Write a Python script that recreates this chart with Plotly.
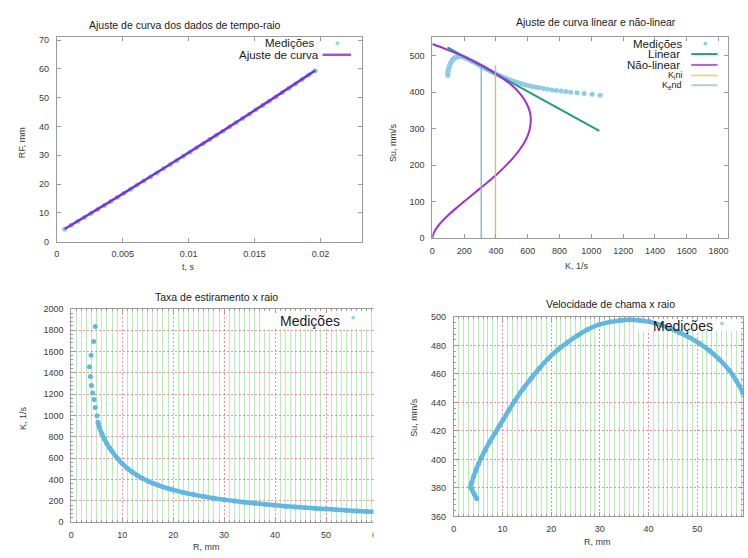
import plotly.graph_objects as go

W, H = 748, 558
FONT = "Liberation Sans, Arial, sans-serif"


def fx(p):
    return p / W


def fy(p):
    return 1 - p / H


# ---------------- Ajuste de curva dos dados de tempo-raio ----------------
t_meas = [0.0006, 0.0011, 0.0016, 0.0021, 0.0026, 0.0031, 0.0036, 0.0041, 0.0046, 0.0051,
          0.0056, 0.0061, 0.0066, 0.0071, 0.0076, 0.0081, 0.0086, 0.0091, 0.0096, 0.0101,
          0.0106, 0.0111, 0.0116, 0.0121, 0.0126, 0.0131, 0.0136, 0.0141, 0.0146, 0.0151,
          0.0156, 0.0161, 0.0166, 0.0171, 0.0176, 0.0181, 0.0186, 0.0191, 0.0196]
rf_meas = [4.3, 5.7, 7.1, 8.4, 9.8, 11.2, 12.6, 14.0, 15.4, 16.8,
           18.2, 19.7, 21.1, 22.5, 23.9, 25.4, 26.8, 28.2, 29.7, 31.1,
           32.6, 34.0, 35.5, 37.0, 38.4, 39.9, 41.4, 42.9, 44.3, 45.8,
           47.3, 48.8, 50.3, 51.8, 53.3, 54.8, 56.3, 57.9, 59.4]
t_fit = [0.0006, 0.0046, 0.0086, 0.0126, 0.0166, 0.0196]
rf_fit = [4.4, 15.5, 26.9, 38.5, 50.4, 59.5]

# ---------------- Ajuste de curva linear e não-linear ----------------
k_meas = [98, 97, 98, 100, 103, 106, 110, 114, 119, 124, 130, 137, 145, 155, 165, 175, 186,
          198, 210, 222, 235, 248, 262, 276, 290, 305, 320, 335, 350, 365, 380, 395, 410,
          425, 440, 455, 470, 485, 500, 515, 530, 545, 560, 578, 596, 615, 635, 655, 675,
          700, 725, 752, 780, 810, 840, 870, 910, 955, 1005, 1055]
su_meas = [446, 450, 455, 460, 465, 470, 475, 479, 483, 487, 490, 493, 495.5, 497, 498, 498,
           497, 495.5, 493, 491, 488, 485, 482, 479, 475, 471, 468, 464, 461, 457, 454, 451,
           448, 445, 442, 439, 436.5, 434, 431.5, 429, 427, 425, 423, 421, 419, 417, 415,
           413.5, 412, 410, 408, 406, 404.5, 403, 401.5, 400, 398.5, 396.5, 394, 391.5]
k_lin = [95, 1050]
su_lin = [523, 294]
k_nl = [0, 73, 184, 282, 366, 437, 496, 543, 578, 602, 616, 619, 613, 599, 576, 545, 508,
        465, 418, 366, 311, 255, 199, 144, 93, 49, 16, 5, 0]
su_nl = [532, 520, 500, 480, 460, 440, 420, 400, 380, 360, 340, 323, 300, 280, 260, 240, 220,
         200, 180, 160, 140, 120, 100, 80, 60, 40, 20, 10, 0]
k_ini = [397, 397]
su_ini = [0, 474]
k_end = [307, 307]
su_end = [0, 470]

# ---------------- Taxa de estiramento x raio ----------------
r_k = [4.72, 4.4, 3.88, 3.56, 3.75, 3.95, 4.2, 4.47, 4.72, 5.05, 5.24,
       5.5, 6.0, 6.5, 7.0, 7.5, 8.0, 9.0, 10, 11, 12, 13, 14, 15, 16, 17, 18, 19, 20,
       22, 24, 26, 28, 30, 32, 34, 36, 38, 40, 42, 44, 46, 48, 50, 52, 54, 56, 58, 60]
k_r = [1834, 1693, 1564, 1457, 1365, 1282, 1212, 1150, 1074, 997, 936,
       890, 830, 780, 735, 698, 665, 601, 550, 506, 470, 439, 411, 387, 366, 348, 331, 316, 303,
       279, 259, 241, 225, 212, 199, 188, 178, 168, 160, 151, 144, 137, 130, 124, 118, 112,
       106, 101, 95]

# ---------------- Velocidade de chama x raio ----------------
r_su = [4.74, 4.2, 3.7, 3.45, 3.7, 4.07, 4.5, 5.08, 5.7, 6.43, 7.4, 8.46, 9.3, 10.16, 11.3,
        12.5, 14.2, 15.9, 17.6, 19.3, 21.3, 23.4, 25.4, 27.4, 29.8, 32.2, 34.2, 36.2, 38.2,
        40.3, 42.3, 44.4, 46.4, 48.4, 50.5, 52.5, 54.5, 56.6, 58.0, 59.4]
su_r = [372.4, 375.5, 378.9, 380.5, 384, 388, 392, 397, 401.5, 406.5, 412.5, 418.5, 423.2,
        428, 434.5, 441, 449.5, 457, 464, 470.5, 476.8, 482.3, 487, 491, 494.6,
        496.6, 497.6, 498, 497.6, 496.6, 494.7, 492, 489, 485.6, 481.3, 476.4, 470.4,
        462.5, 455.5, 446.7]

C_MEAS = "#62b6e2"
C_MEAS_KEY = "#8fcbe8"
C_PURPLE = "#9b30d6"
C_GREEN = "#1f9e78"
C_KINI = "#e0bd62"
C_KEND = "#78b4d4"
AX = "#9a9a9a"
TXT = "#3a3a3a"

fig = go.Figure()

# panel 1
fig.add_trace(go.Scatter(x=t_meas, y=rf_meas, mode="markers", xaxis="x", yaxis="y",
                         marker=dict(size=5, color="#7fd0ea"), showlegend=False))
fig.add_trace(go.Scatter(x=t_fit, y=rf_fit, mode="lines", xaxis="x", yaxis="y",
                         line=dict(color="#7a32d8", width=2.5, shape="spline"),
                         showlegend=False))

# panel 2
fig.add_trace(go.Scatter(x=k_meas, y=su_meas, mode="markers", xaxis="x2", yaxis="y2",
                         marker=dict(size=5, color=C_MEAS_KEY), showlegend=False))
fig.add_trace(go.Scatter(x=k_lin, y=su_lin, mode="lines", xaxis="x2", yaxis="y2",
                         line=dict(color=C_GREEN, width=2), showlegend=False))
fig.add_trace(go.Scatter(x=k_nl, y=su_nl, mode="lines", xaxis="x2", yaxis="y2",
                         line=dict(color=C_PURPLE, width=2, shape="spline", smoothing=0.8),
                         showlegend=False))
fig.add_trace(go.Scatter(x=k_ini, y=su_ini, mode="lines", xaxis="x2", yaxis="y2",
                         line=dict(color=C_KINI, width=1.3), showlegend=False))
fig.add_trace(go.Scatter(x=k_end, y=su_end, mode="lines", xaxis="x2", yaxis="y2",
                         line=dict(color=C_KEND, width=1.3), showlegend=False))

# panel 3 (dense part drawn as a band under the dots)
fig.add_trace(go.Scatter(x=r_k[10:], y=k_r[10:], mode="lines", xaxis="x3", yaxis="y3",
                         line=dict(color=C_MEAS, width=4.5, shape="spline"), showlegend=False))
fig.add_trace(go.Scatter(x=r_k, y=k_r, mode="markers", xaxis="x3", yaxis="y3",
                         marker=dict(size=5, color=C_MEAS), showlegend=False))

# panel 4
fig.add_trace(go.Scatter(x=r_su, y=su_r, mode="lines", xaxis="x4", yaxis="y4",
                         line=dict(color=C_MEAS, width=4.5, shape="spline"), showlegend=False))
fig.add_trace(go.Scatter(x=r_su, y=su_r, mode="markers", xaxis="x4", yaxis="y4",
                         marker=dict(size=5, color=C_MEAS), showlegend=False))


def axis(domain, rng, anchor, **kw):
    d = dict(domain=domain, range=rng, anchor=anchor, showline=True, linecolor=AX,
             linewidth=1, mirror="allticks", ticks="inside", ticklen=4, tickcolor=AX,
             tickfont=dict(family=FONT, size=9, color=TXT), zeroline=False,
             showgrid=False, fixedrange=True)
    d.update(kw)
    return d


GRID_MAJ = dict(showgrid=True, gridcolor="rgba(228,120,120,0.8)", griddash="2px,2px",
                gridwidth=1)


def minor(dt, grid):
    m = dict(dtick=dt, ticks="inside", ticklen=2, tickcolor=AX, showgrid=grid)
    if grid:
        m.update(gridcolor="#bce8bc", griddash="solid", gridwidth=1)
    return m


fig.update_layout(
    width=W, height=H, margin=dict(l=0, r=0, t=0, b=0),
    paper_bgcolor="white", plot_bgcolor="white", showlegend=False,
    font=dict(family=FONT, color=TXT),
    xaxis=axis([fx(54.3), fx(363)], [0, 0.02315], "y",
               tickvals=[0, 0.005, 0.01, 0.015, 0.02],
               ticktext=["0", "0.005", "0.01", "0.015", "0.02"], ticklabelstandoff=4),
    yaxis=axis([fy(241), fy(32.3)], [0, 71.2], "x", dtick=10, ticklabelstandoff=5),
    xaxis2=axis([fx(434), fx(733.3)], [0, 1862], "y2", dtick=200, ticklabelstandoff=4),
    yaxis2=axis([fy(237.3), fy(32.3)], [0, 552], "x2", dtick=100, ticklabelstandoff=5),
    xaxis3=axis([fx(69), fx(378)], [0, 60], "y3", dtick=10, ticklabelstandoff=4,
                minor=minor(1, True), **GRID_MAJ),
    yaxis3=axis([fy(526.7), fy(309.3)], [0, 2000], "x3", dtick=200, ticklabelstandoff=5,
                minor=minor(40, False), **GRID_MAJ),
    xaxis4=axis([fx(455.7), 1.0], [0, 59.41], "y4", dtick=10, ticklabelstandoff=4,
                minor=minor(1, True), **GRID_MAJ),
    yaxis4=axis([fy(520.7), fy(317.7)], [360, 500], "x4", dtick=20, ticklabelstandoff=5,
                minor=minor(4, False), **GRID_MAJ),
)

ann = []


def text(x, y, s, size=9, color=TXT, xanchor="center", angle=0):
    ann.append(dict(x=fx(x), y=fy(y), xref="paper", yref="paper", text=s, showarrow=False,
                    xanchor=xanchor, yanchor="middle", textangle=angle, borderpad=0,
                    font=dict(family=FONT, size=size, color=color)))


# titles
text(184, 20.7, "Ajuste de curva dos dados de tempo-raio", 10.5, "#1a1a1a")
text(599, 17, "Ajuste de curva linear e não-linear", 10.5, "#1a1a1a")
text(216, 297.3, "Taxa de estiramento x raio", 10.5, "#1a1a1a")
text(614, 304.3, "Velocidade de chama x raio", 10.5, "#1a1a1a")

# axis titles
text(20, 140, "RF, mm", 9, angle=-90)
text(188, 267, "t, s", 9)
text(394.7, 140, "Su, mm/s", 9, angle=-90)
text(580.7, 265.3, "K, 1/s", 9)
text(20.7, 420, "K, 1/s", 9, angle=-90)
text(206, 552, "R, mm", 9)
text(415.7, 420, "Su, mm/s", 9, angle=-90)
text(600.7, 546.7, "R, mm", 9)

# keys
text(315, 39, "Medições", 11.5, "#1a1a1a", "right")
text(320.7, 50.7, "Ajuste de curva", 11.5, "#1a1a1a", "right")
text(687.3, 39.3, "Medições", 11.5, "#1a1a1a", "right")
text(685.7, 50, "Linear", 11.5, "#1a1a1a", "right")
text(685.7, 61, "Não-linear", 11.5, "#1a1a1a", "right")
text(687, 71.7, "K<sub>i</sub>ni", 9, "#1a1a1a", "right")
text(687, 81.7, "K<sub>e</sub>nd", 9, "#1a1a1a", "right")
text(341.7, 321.7, "Medições", 14, "#1a1a1a", "right")
text(719, 326.7, "Medições", 14, "#1a1a1a", "right")

shapes = []


def key_line(x0, x1, y, color, w=2):
    shapes.append(dict(type="line", xref="paper", yref="paper", x0=fx(x0), x1=fx(x1),
                       y0=fy(y), y1=fy(y), line=dict(color=color, width=w), layer="above"))


def key_dot(x, y, color, r=2):
    shapes.append(dict(type="circle", xref="paper", yref="paper", x0=fx(x - r), x1=fx(x + r),
                       y0=fy(y + r), y1=fy(y - r), fillcolor=color, line=dict(width=0),
                       layer="above"))


key_dot(338, 39, "#9ad6ec")
key_line(323, 351.7, 50.7, "#a050d8", 2.5)
key_dot(710, 39.3, C_MEAS_KEY)
key_line(695.7, 722.3, 50, C_GREEN)
key_line(695.7, 722.3, 61, "#b060d8")
key_line(695.7, 722.3, 71.7, "#e8d890")
key_line(695.7, 722.3, 81.7, "#a8d0e0")
key_dot(354, 318.3, "#9ad6ec")
key_dot(726.7, 324.3, "#9ad6ec")

# white key backgrounds over the grid (between grid and data)
shapes.append(dict(type="rect", xref="x3", yref="y3", x0=37.4, x1=58.8, y0=1810, y1=1987,
                   fillcolor="white", line=dict(width=0), layer="between"))
shapes.append(dict(type="rect", xref="x4", yref="y4", x0=37.6, x1=59.41, y0=490.3, y1=498.9,
                   fillcolor="white", line=dict(width=0), layer="between"))
# gap between the two lower charts
shapes.append(dict(type="rect", xref="paper", yref="paper", x0=fx(374.5), x1=fx(400),
                   y0=0, y1=fy(300), fillcolor="white", line=dict(width=0), layer="above"))

fig.update_layout(annotations=ann, shapes=shapes)
fig.write_html("out.html")
